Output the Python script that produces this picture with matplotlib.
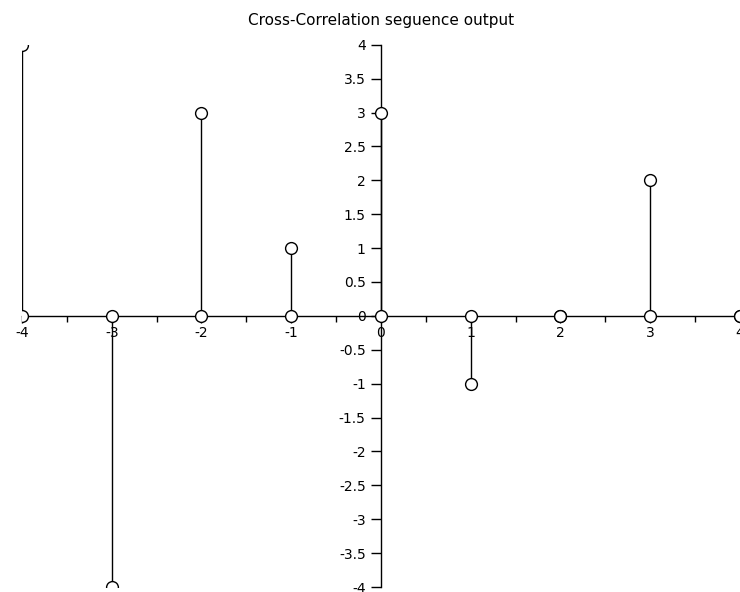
import matplotlib
matplotlib.use("Agg")
from matplotlib import pyplot as plt
import numpy as np

# lag index and cross-correlation values
lags = [-4, -3, -2, -1, 0, 1, 2, 3, 4]
corr = [4, -4, 3, 1, 3, -1, 0, 2, 0]

fig = plt.figure(figsize=(7.4, 5.92), dpi=100)
ax = fig.add_axes([0.0297, 0.0084, 0.9703, 0.916])

x = np.array(lags)
y = np.array(corr)

# stems from zero to each value, circles on both ends
ax.vlines(x, 0, y, color='black', linewidth=1.0, zorder=2)
ax.plot(x, np.zeros_like(y), 'o', markersize=8.5, markerfacecolor='white',
        markeredgecolor='black', markeredgewidth=1.0, zorder=3)
ax.plot(x, y, 'o', markersize=8.5, markerfacecolor='white',
        markeredgecolor='black', markeredgewidth=1.0, zorder=3)

ax.set_xlim(-4, 4)
ax.set_ylim(-4, 4)

# axes crossing at the origin
ax.spines['left'].set_position(('data', 0))
ax.spines['bottom'].set_position(('data', 0))
ax.spines['top'].set_visible(False)
ax.spines['right'].set_visible(False)
for s in ['left', 'bottom']:
    ax.spines[s].set_linewidth(1.0)
    ax.spines[s].set_zorder(1)

ax.set_xticks(np.arange(-4, 5, 1))
ax.set_xticks(np.arange(-3.5, 4, 1), minor=True)
ax.set_xticklabels([str(v) for v in range(-4, 5)])
yt = np.arange(-4, 4.01, 0.5)
ax.set_yticks(yt)
ax.set_yticklabels(['%g' % v for v in yt])

ax.tick_params(axis='x', which='major', direction='out', length=5, width=1,
               labelsize=10, pad=2)
ax.tick_params(axis='x', which='minor', direction='out', length=4, width=1)
ax.tick_params(axis='y', direction='out', length=7, width=1, labelsize=10, pad=4)

ax.set_title('Cross-Correlation seguence output', fontsize=11, pad=14)

fig.savefig('out.png', dpi=100)
